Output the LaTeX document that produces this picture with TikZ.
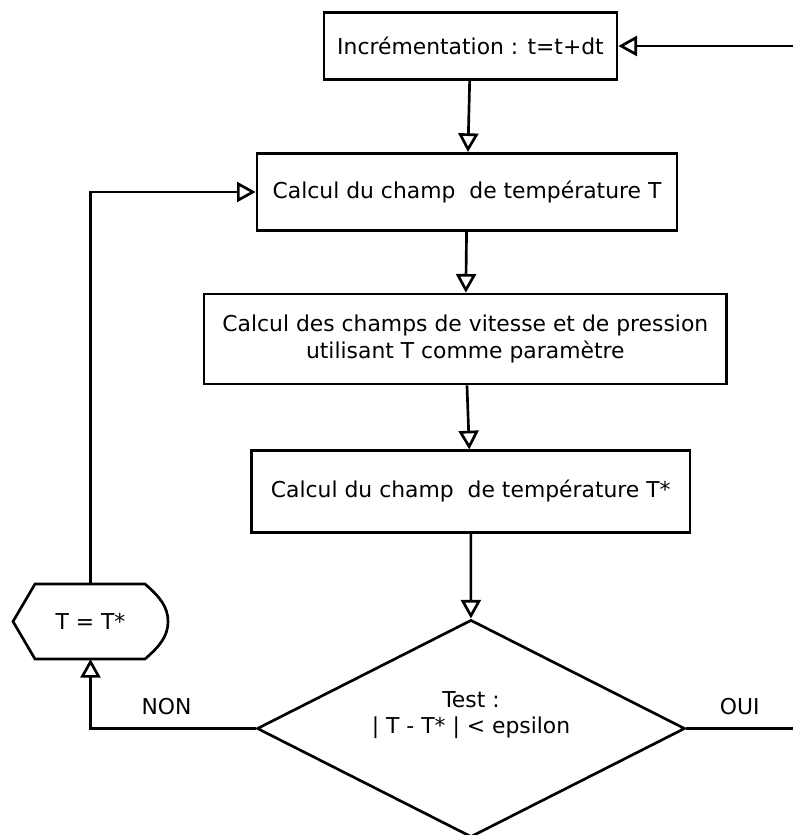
\documentclass[tikz,border=0pt]{standalone}
\usepackage{fontspec}
\setmainfont{DejaVu Sans}
\usetikzlibrary{arrows.meta,calc,shapes.geometric}

\begin{document}
\begin{tikzpicture}[x=0.75pt, y=-0.75pt, line width=2pt,
		every node/.style={font=\fontsize{16.4pt}{20pt}\selectfont},
		box/.style={draw, align=center, inner sep=0pt},
		flow/.style={-{Triangle[open, length=14pt, width=15pt]}}]
		\useasboundingbox (0,0) rectangle (793,835);
		\coordinate (inR)  at (793, 46);
		\coordinate (outR) at (793, 728.5);

		\node[box, minimum width=219.75pt, minimum height=50pt] (incr) at (470.5, 46) {Incrémentation : t=t+dt};
		\node[box, minimum width=315pt, minimum height=58pt] (champT) at (467, 192) {Calcul du champ\ \ de température T};
		\node[box, minimum width=392pt, minimum height=67.5pt] (vitesse) at (465.3, 339) {Calcul des champs de vitesse et de pression\\utilisant T comme paramètre};
		\node[box, minimum width=328.7pt, minimum height=61.2pt] (champTs) at (470.8, 491.5) {Calcul du champ\ \ de température T*};
		\node[draw, diamond, minimum width=321pt, minimum height=163pt, inner sep=0pt] (test) at (471, 728.5) {};
		\node[align=center] (testtxt) at (471, 715) {Test :\\| T - T* | < epsilon};
		\node[minimum width=116.25pt, minimum height=56.25pt, outer sep=0pt] (assign) at (90.5, 621.5) {T = T*};

		\draw (assign.west) -- ($(assign.north west)+(22,0)$) -- ($(assign.north east)+(-23,0)$)
			.. controls ($(assign.north east)+(-8,13)$) and ($(assign.east)+(0,-14.5)$) .. (assign.east)
			.. controls ($(assign.east)+(0,14.5)$) and ($(assign.south east)+(-8,-13)$) .. ($(assign.south east)+(-23,0)$)
			-- ($(assign.south west)+(22,0)$) -- cycle;

		\draw[flow] (inR) -- (incr.east);
		\draw[flow] (incr) -- (champT);
		\draw[flow] (champT) -- (vitesse);
		\draw[flow] (vitesse) -- (champTs);
		\draw[flow] (champTs) -- (test);
		\draw (test.east) -- node[above=6pt] (ouilbl) {OUI} (outR);
		\draw[flow] (test.west) -| node[pos=0.27, above=6pt] (nonlbl) {NON} (assign.south);
		\draw[flow] (assign.north) |- (champT.west);
	\end{tikzpicture}
\end{document}
